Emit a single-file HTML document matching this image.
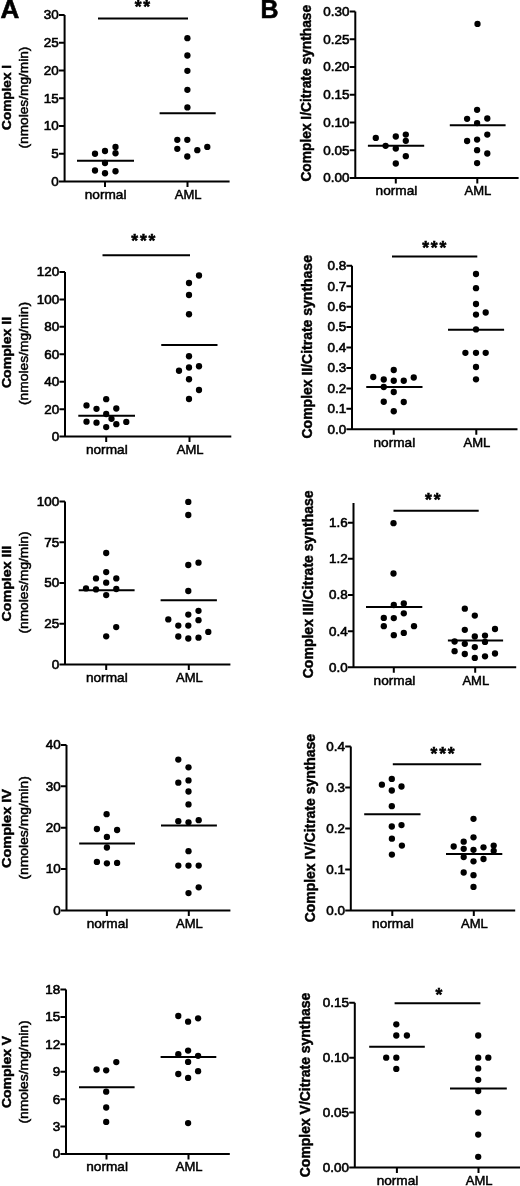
<!DOCTYPE html>
<html><head><meta charset="utf-8"><title>Figure</title>
<style>
html,body{margin:0;padding:0;background:#fff;}
body{width:520px;height:1186px;overflow:hidden;}
svg{display:block;filter:blur(0.3px);}
text{font-family:"Liberation Sans",sans-serif;fill:#000;stroke:#000;stroke-width:0.35px;}
.tk{font-size:13.2px;stroke-width:0.6px;}
.ct{font-size:13.4px;stroke-width:0.5px;}
.y1{font-size:13.6px;font-weight:bold;stroke-width:0.45px;}
.y2{font-size:13.3px;stroke-width:0.5px;}
.yb{font-size:14.1px;font-weight:bold;stroke-width:0.45px;}
.st{font-size:17.5px;font-weight:bold;stroke-width:0.55px;}
.pl{font-size:26px;font-weight:bold;stroke-width:0.6px;}
</style></head><body>
<svg width="520" height="1186" viewBox="0 0 520 1186">
<rect width="520" height="1186" fill="#fff"/>
<text class="pl" x="0.6" y="18.4">A</text>
<text class="pl" transform="translate(260.4 18.4) scale(0.96 1)">B</text>
<g fill="#000">
<path d="M64.6 15V181.5H229.6M59 15H64.6M59 42.75H64.6M59 70.5H64.6M59 98.25H64.6M59 126H64.6M59 153.75H64.6M59 181.5H64.6M105 181.5V187M187.5 181.5V187" fill="none" stroke="#000" stroke-width="2.0"/>
<text class="tk" text-anchor="end" transform="translate(58.8 19.4) scale(1.02 1)">30</text>
<text class="tk" text-anchor="end" transform="translate(58.8 47.15) scale(1.02 1)">25</text>
<text class="tk" text-anchor="end" transform="translate(58.8 74.9) scale(1.02 1)">20</text>
<text class="tk" text-anchor="end" transform="translate(58.8 102.65) scale(1.02 1)">15</text>
<text class="tk" text-anchor="end" transform="translate(58.8 130.4) scale(1.02 1)">10</text>
<text class="tk" text-anchor="end" transform="translate(58.8 158.15) scale(1.02 1)">5</text>
<text class="tk" text-anchor="end" transform="translate(58.8 185.9) scale(1.02 1)">0</text>
<text class="ct" text-anchor="middle" transform="translate(105.6 198.9) scale(1.02 1)">normal</text>
<text class="ct" text-anchor="middle" transform="translate(188.1 198.9) scale(0.975 1)">AML</text>
<path d="M77 160.8H134M159.6 113.3H215.7" stroke="#000" stroke-width="2.0"/>
<path d="M98 18.4H188" stroke="#000" stroke-width="2.0"/>
<text class="st" text-anchor="middle" x="138.1" y="12.6">*</text>
<text class="st" text-anchor="middle" x="146.7" y="12.6">*</text>
<circle cx="95" cy="153.75" r="3.15"/>
<circle cx="105" cy="151" r="3.15"/>
<circle cx="115.5" cy="147" r="3.15"/>
<circle cx="115.5" cy="153.25" r="3.15"/>
<circle cx="105" cy="163" r="3.15"/>
<circle cx="95" cy="170.5" r="3.15"/>
<circle cx="105" cy="173.25" r="3.15"/>
<circle cx="115.5" cy="171.25" r="3.15"/>
<circle cx="187.4" cy="38.2" r="3.15"/>
<circle cx="187.4" cy="55.5" r="3.15"/>
<circle cx="187.4" cy="70.8" r="3.15"/>
<circle cx="187.4" cy="89.8" r="3.15"/>
<circle cx="187.4" cy="107.4" r="3.15"/>
<circle cx="177.3" cy="139.8" r="3.15"/>
<circle cx="187.3" cy="139.8" r="3.15"/>
<circle cx="177.3" cy="148.8" r="3.15"/>
<circle cx="187.3" cy="156.5" r="3.15"/>
<circle cx="197.3" cy="150.2" r="3.15"/>
<circle cx="207.3" cy="146.9" r="3.15"/>
<text class="y1" text-anchor="middle" textLength="64.9" lengthAdjust="spacingAndGlyphs" transform="translate(11.3 97.45) rotate(-90)">Complex I</text>
<text class="y2" text-anchor="middle" textLength="101.9" lengthAdjust="spacingAndGlyphs" transform="translate(27.7 97.55) rotate(-90)">(nmoles/mg/min)</text>
</g>
<g fill="#000">
<path d="M355.3 11.4V178H518.6M349.7 11.4H355.3M349.7 39.17H355.3M349.7 66.93H355.3M349.7 94.7H355.3M349.7 122.47H355.3M349.7 150.23H355.3M349.7 178H355.3M395.8 178V183.5M477.3 178V183.5" fill="none" stroke="#000" stroke-width="2.0"/>
<text class="tk" text-anchor="end" transform="translate(349.5 15.8) scale(1.02 1)">0.30</text>
<text class="tk" text-anchor="end" transform="translate(349.5 43.57) scale(1.02 1)">0.25</text>
<text class="tk" text-anchor="end" transform="translate(349.5 71.33) scale(1.02 1)">0.20</text>
<text class="tk" text-anchor="end" transform="translate(349.5 99.1) scale(1.02 1)">0.15</text>
<text class="tk" text-anchor="end" transform="translate(349.5 126.87) scale(1.02 1)">0.10</text>
<text class="tk" text-anchor="end" transform="translate(349.5 154.63) scale(1.02 1)">0.05</text>
<text class="tk" text-anchor="end" transform="translate(349.5 182.4) scale(1.02 1)">0.00</text>
<text class="ct" text-anchor="middle" transform="translate(396.4 195.4) scale(1.02 1)">normal</text>
<text class="ct" text-anchor="middle" transform="translate(477.9 195.4) scale(0.975 1)">AML</text>
<path d="M367.9 145.8H424.2M449.8 125.2H505.6" stroke="#000" stroke-width="2.0"/>
<circle cx="375.8" cy="137.9" r="3.15"/>
<circle cx="395.8" cy="136.5" r="3.15"/>
<circle cx="405.8" cy="134.6" r="3.15"/>
<circle cx="405.8" cy="140.8" r="3.15"/>
<circle cx="385.6" cy="145.8" r="3.15"/>
<circle cx="395.8" cy="148.5" r="3.15"/>
<circle cx="405.8" cy="156.2" r="3.15"/>
<circle cx="395.8" cy="163.5" r="3.15"/>
<circle cx="477.5" cy="23.9" r="3.15"/>
<circle cx="477.1" cy="109.8" r="3.15"/>
<circle cx="467.1" cy="118.8" r="3.15"/>
<circle cx="487.3" cy="118.5" r="3.15"/>
<circle cx="477.1" cy="123.1" r="3.15"/>
<circle cx="487.3" cy="134.6" r="3.15"/>
<circle cx="467.1" cy="141" r="3.15"/>
<circle cx="477.1" cy="139.6" r="3.15"/>
<circle cx="477.1" cy="150.2" r="3.15"/>
<circle cx="487.3" cy="153.5" r="3.15"/>
<circle cx="477.1" cy="163.1" r="3.15"/>
<text class="yb" text-anchor="middle" textLength="176.7" lengthAdjust="spacingAndGlyphs" transform="translate(311 93.25) rotate(-90)">Complex I/Citrate synthase</text>
</g>
<g fill="#000">
<path d="M65 272V436.6H231.3M59.4 272H65M59.4 299.43H65M59.4 326.87H65M59.4 354.3H65M59.4 381.73H65M59.4 409.17H65M59.4 436.6H65M106.2 436.6V442.1M189.5 436.6V442.1" fill="none" stroke="#000" stroke-width="2.0"/>
<text class="tk" text-anchor="end" transform="translate(59.2 276.4) scale(1.02 1)">120</text>
<text class="tk" text-anchor="end" transform="translate(59.2 303.83) scale(1.02 1)">100</text>
<text class="tk" text-anchor="end" transform="translate(59.2 331.27) scale(1.02 1)">80</text>
<text class="tk" text-anchor="end" transform="translate(59.2 358.7) scale(1.02 1)">60</text>
<text class="tk" text-anchor="end" transform="translate(59.2 386.13) scale(1.02 1)">40</text>
<text class="tk" text-anchor="end" transform="translate(59.2 413.57) scale(1.02 1)">20</text>
<text class="tk" text-anchor="end" transform="translate(59.2 441) scale(1.02 1)">0</text>
<text class="ct" text-anchor="middle" transform="translate(106.8 454) scale(1.02 1)">normal</text>
<text class="ct" text-anchor="middle" transform="translate(190.1 454) scale(0.975 1)">AML</text>
<path d="M78.3 415.7H135M161.25 345H217.5" stroke="#000" stroke-width="2.0"/>
<path d="M102.5 255.3H190" stroke="#000" stroke-width="2.0"/>
<text class="st" text-anchor="middle" x="134.7" y="247.1">*</text>
<text class="st" text-anchor="middle" x="143.3" y="247.1">*</text>
<text class="st" text-anchor="middle" x="151.9" y="247.1">*</text>
<circle cx="86.5" cy="405.4" r="3.15"/>
<circle cx="106.2" cy="399.2" r="3.15"/>
<circle cx="96.5" cy="408.8" r="3.15"/>
<circle cx="116.3" cy="408.5" r="3.15"/>
<circle cx="106.2" cy="414" r="3.15"/>
<circle cx="111.5" cy="418.8" r="3.15"/>
<circle cx="86.5" cy="421.7" r="3.15"/>
<circle cx="96.5" cy="422.7" r="3.15"/>
<circle cx="116.3" cy="424.2" r="3.15"/>
<circle cx="126.3" cy="421.9" r="3.15"/>
<circle cx="106.2" cy="427.1" r="3.15"/>
<circle cx="199" cy="275.5" r="3.15"/>
<circle cx="189" cy="283" r="3.15"/>
<circle cx="189" cy="295" r="3.15"/>
<circle cx="189" cy="314.25" r="3.15"/>
<circle cx="189" cy="356.25" r="3.15"/>
<circle cx="179" cy="370.75" r="3.15"/>
<circle cx="189" cy="367.5" r="3.15"/>
<circle cx="199" cy="366.25" r="3.15"/>
<circle cx="189" cy="379.25" r="3.15"/>
<circle cx="199" cy="390" r="3.15"/>
<circle cx="189" cy="399" r="3.15"/>
<text class="y1" text-anchor="middle" textLength="71.2" lengthAdjust="spacingAndGlyphs" transform="translate(11.3 352.5) rotate(-90)">Complex II</text>
<text class="y2" text-anchor="middle" textLength="103" lengthAdjust="spacingAndGlyphs" transform="translate(27.7 353.5) rotate(-90)">(nmoles/mg/min)</text>
</g>
<g fill="#000">
<path d="M352 265.75V429.25H517.5M346.4 265.75H352M346.4 286.19H352M346.4 306.63H352M346.4 327.06H352M346.4 347.5H352M346.4 367.94H352M346.4 388.38H352M346.4 408.81H352M346.4 429.25H352M393.75 429.25V434.75M476.3 429.25V434.75" fill="none" stroke="#000" stroke-width="2.0"/>
<text class="tk" text-anchor="end" transform="translate(346.2 270.15) scale(1.02 1)">0.8</text>
<text class="tk" text-anchor="end" transform="translate(346.2 290.59) scale(1.02 1)">0.7</text>
<text class="tk" text-anchor="end" transform="translate(346.2 311.03) scale(1.02 1)">0.6</text>
<text class="tk" text-anchor="end" transform="translate(346.2 331.46) scale(1.02 1)">0.5</text>
<text class="tk" text-anchor="end" transform="translate(346.2 351.9) scale(1.02 1)">0.4</text>
<text class="tk" text-anchor="end" transform="translate(346.2 372.34) scale(1.02 1)">0.3</text>
<text class="tk" text-anchor="end" transform="translate(346.2 392.78) scale(1.02 1)">0.2</text>
<text class="tk" text-anchor="end" transform="translate(346.2 413.21) scale(1.02 1)">0.1</text>
<text class="tk" text-anchor="end" transform="translate(346.2 433.65) scale(1.02 1)">0.0</text>
<text class="ct" text-anchor="middle" transform="translate(394.35 446.65) scale(1.02 1)">normal</text>
<text class="ct" text-anchor="middle" transform="translate(476.9 446.65) scale(0.975 1)">AML</text>
<path d="M366.25 387H422.5M448 329.8H504.1" stroke="#000" stroke-width="2.0"/>
<path d="M392 256.5H477.3" stroke="#000" stroke-width="2.0"/>
<text class="st" text-anchor="middle" x="425.6" y="254.3">*</text>
<text class="st" text-anchor="middle" x="434.2" y="254.3">*</text>
<text class="st" text-anchor="middle" x="442.8" y="254.3">*</text>
<circle cx="373.25" cy="377" r="3.15"/>
<circle cx="393.75" cy="370" r="3.15"/>
<circle cx="383.75" cy="379.5" r="3.15"/>
<circle cx="393.75" cy="380.75" r="3.15"/>
<circle cx="403.75" cy="380.75" r="3.15"/>
<circle cx="413.75" cy="377.5" r="3.15"/>
<circle cx="383.75" cy="387" r="3.15"/>
<circle cx="393.75" cy="392" r="3.15"/>
<circle cx="383.75" cy="401.75" r="3.15"/>
<circle cx="403.75" cy="402" r="3.15"/>
<circle cx="393.75" cy="411.25" r="3.15"/>
<circle cx="476" cy="274" r="3.15"/>
<circle cx="476" cy="288.2" r="3.15"/>
<circle cx="476" cy="304" r="3.15"/>
<circle cx="485.7" cy="312.5" r="3.15"/>
<circle cx="476" cy="314.6" r="3.15"/>
<circle cx="476" cy="329.4" r="3.15"/>
<circle cx="465.4" cy="352.8" r="3.15"/>
<circle cx="476" cy="352.8" r="3.15"/>
<circle cx="485.7" cy="352.8" r="3.15"/>
<circle cx="476" cy="367" r="3.15"/>
<circle cx="476" cy="379.3" r="3.15"/>
<text class="yb" text-anchor="middle" textLength="183.4" lengthAdjust="spacingAndGlyphs" transform="translate(312.3 346.8) rotate(-90)">Complex II/Citrate synthase</text>
</g>
<g fill="#000">
<path d="M65 501.6V664.4H230.4M59.4 501.6H65M59.4 542.3H65M59.4 583H65M59.4 623.7H65M59.4 664.4H65M106.2 664.4V669.9M188.8 664.4V669.9" fill="none" stroke="#000" stroke-width="2.0"/>
<text class="tk" text-anchor="end" transform="translate(59.2 506) scale(1.02 1)">100</text>
<text class="tk" text-anchor="end" transform="translate(59.2 546.7) scale(1.02 1)">75</text>
<text class="tk" text-anchor="end" transform="translate(59.2 587.4) scale(1.02 1)">50</text>
<text class="tk" text-anchor="end" transform="translate(59.2 628.1) scale(1.02 1)">25</text>
<text class="tk" text-anchor="end" transform="translate(59.2 668.8) scale(1.02 1)">0</text>
<text class="ct" text-anchor="middle" transform="translate(106.8 681.8) scale(1.02 1)">normal</text>
<text class="ct" text-anchor="middle" transform="translate(189.4 681.8) scale(0.975 1)">AML</text>
<path d="M78.7 590.3H134.6M160.6 600.2H216.9" stroke="#000" stroke-width="2.0"/>
<circle cx="106.2" cy="553" r="3.15"/>
<circle cx="106.2" cy="572.1" r="3.15"/>
<circle cx="96" cy="578.4" r="3.15"/>
<circle cx="116.3" cy="578.4" r="3.15"/>
<circle cx="106.2" cy="582.7" r="3.15"/>
<circle cx="86" cy="588.4" r="3.15"/>
<circle cx="96" cy="589.4" r="3.15"/>
<circle cx="116.3" cy="589" r="3.15"/>
<circle cx="106.2" cy="595.1" r="3.15"/>
<circle cx="116.2" cy="627.1" r="3.15"/>
<circle cx="106.2" cy="636.3" r="3.15"/>
<circle cx="188.3" cy="501.9" r="3.15"/>
<circle cx="188.3" cy="515" r="3.15"/>
<circle cx="188.3" cy="565" r="3.15"/>
<circle cx="198.5" cy="562.7" r="3.15"/>
<circle cx="188.3" cy="591" r="3.15"/>
<circle cx="198.5" cy="610.8" r="3.15"/>
<circle cx="188.3" cy="614.6" r="3.15"/>
<circle cx="168.3" cy="619.4" r="3.15"/>
<circle cx="198.5" cy="620.2" r="3.15"/>
<circle cx="178.3" cy="625.6" r="3.15"/>
<circle cx="188.3" cy="625.6" r="3.15"/>
<circle cx="208.3" cy="631.9" r="3.15"/>
<circle cx="178.3" cy="636.5" r="3.15"/>
<circle cx="188.3" cy="638.5" r="3.15"/>
<circle cx="198.5" cy="637.7" r="3.15"/>
<text class="y1" text-anchor="middle" textLength="75.7" lengthAdjust="spacingAndGlyphs" transform="translate(11.3 583.55) rotate(-90)">Complex III</text>
<text class="y2" text-anchor="middle" textLength="102" lengthAdjust="spacingAndGlyphs" transform="translate(27.7 582.5) rotate(-90)">(nmoles/mg/min)</text>
</g>
<g fill="#000">
<path d="M353.5 503V667.3H516.2M347.9 522.7H353.5M347.9 558.85H353.5M347.9 595H353.5M347.9 631.15H353.5M347.9 667.3H353.5M393.8 667.3V672.8M475.2 667.3V672.8" fill="none" stroke="#000" stroke-width="2.0"/>
<text class="tk" text-anchor="end" transform="translate(347.7 527.1) scale(1.02 1)">1.6</text>
<text class="tk" text-anchor="end" transform="translate(347.7 563.25) scale(1.02 1)">1.2</text>
<text class="tk" text-anchor="end" transform="translate(347.7 599.4) scale(1.02 1)">0.8</text>
<text class="tk" text-anchor="end" transform="translate(347.7 635.55) scale(1.02 1)">0.4</text>
<text class="tk" text-anchor="end" transform="translate(347.7 671.7) scale(1.02 1)">0.0</text>
<text class="ct" text-anchor="middle" transform="translate(394.4 684.7) scale(1.02 1)">normal</text>
<text class="ct" text-anchor="middle" transform="translate(475.8 684.7) scale(0.975 1)">AML</text>
<path d="M366 606.9H422.3M447.9 640.4H503.1" stroke="#000" stroke-width="2.0"/>
<path d="M393.5 510.8H478.7" stroke="#000" stroke-width="2.0"/>
<text class="st" text-anchor="middle" x="428.5" y="506.3">*</text>
<text class="st" text-anchor="middle" x="437.1" y="506.3">*</text>
<circle cx="393.5" cy="523.2" r="3.15"/>
<circle cx="393.5" cy="573.5" r="3.15"/>
<circle cx="393.8" cy="605" r="3.15"/>
<circle cx="403.8" cy="603.5" r="3.15"/>
<circle cx="403.8" cy="613.3" r="3.15"/>
<circle cx="383.8" cy="617.9" r="3.15"/>
<circle cx="393.8" cy="618.1" r="3.15"/>
<circle cx="383.8" cy="626.2" r="3.15"/>
<circle cx="414" cy="626.2" r="3.15"/>
<circle cx="393.8" cy="635.2" r="3.15"/>
<circle cx="403.8" cy="632.9" r="3.15"/>
<circle cx="464.8" cy="608.7" r="3.15"/>
<circle cx="474.8" cy="615.6" r="3.15"/>
<circle cx="464.8" cy="629.8" r="3.15"/>
<circle cx="495" cy="629" r="3.15"/>
<circle cx="474.8" cy="636.5" r="3.15"/>
<circle cx="485" cy="635.6" r="3.15"/>
<circle cx="454.6" cy="641.5" r="3.15"/>
<circle cx="464.8" cy="643.8" r="3.15"/>
<circle cx="485" cy="641.9" r="3.15"/>
<circle cx="474.8" cy="647.1" r="3.15"/>
<circle cx="454.6" cy="651.2" r="3.15"/>
<circle cx="464.8" cy="654" r="3.15"/>
<circle cx="495" cy="653.5" r="3.15"/>
<circle cx="474.8" cy="657.9" r="3.15"/>
<circle cx="485" cy="656.3" r="3.15"/>
<text class="yb" text-anchor="middle" textLength="187.9" lengthAdjust="spacingAndGlyphs" transform="translate(313.4 584.35) rotate(-90)">Complex III/Citrate synthase</text>
</g>
<g fill="#000">
<path d="M66.5 745V910.4H230.4M60.9 745H66.5M60.9 786.35H66.5M60.9 827.7H66.5M60.9 869.05H66.5M60.9 910.4H66.5M106.9 910.4V915.9M188.8 910.4V915.9" fill="none" stroke="#000" stroke-width="2.0"/>
<text class="tk" text-anchor="end" transform="translate(60.7 749.4) scale(1.02 1)">40</text>
<text class="tk" text-anchor="end" transform="translate(60.7 790.75) scale(1.02 1)">30</text>
<text class="tk" text-anchor="end" transform="translate(60.7 832.1) scale(1.02 1)">20</text>
<text class="tk" text-anchor="end" transform="translate(60.7 873.45) scale(1.02 1)">10</text>
<text class="tk" text-anchor="end" transform="translate(60.7 914.8) scale(1.02 1)">0</text>
<text class="ct" text-anchor="middle" transform="translate(107.5 927.8) scale(1.02 1)">normal</text>
<text class="ct" text-anchor="middle" transform="translate(189.4 927.8) scale(0.975 1)">AML</text>
<path d="M79.2 843.5H135M161 825.6H216.9" stroke="#000" stroke-width="2.0"/>
<circle cx="106.6" cy="814.2" r="3.15"/>
<circle cx="96.9" cy="829" r="3.15"/>
<circle cx="117.1" cy="830" r="3.15"/>
<circle cx="106.9" cy="836.9" r="3.15"/>
<circle cx="106.9" cy="847.5" r="3.15"/>
<circle cx="96.9" cy="861.9" r="3.15"/>
<circle cx="106.9" cy="863.3" r="3.15"/>
<circle cx="117.1" cy="862.9" r="3.15"/>
<circle cx="178.3" cy="759.6" r="3.15"/>
<circle cx="188.5" cy="767.3" r="3.15"/>
<circle cx="178.3" cy="782.7" r="3.15"/>
<circle cx="188.5" cy="780.4" r="3.15"/>
<circle cx="188.5" cy="791.5" r="3.15"/>
<circle cx="188.5" cy="804.4" r="3.15"/>
<circle cx="178.3" cy="821.2" r="3.15"/>
<circle cx="188.5" cy="822.3" r="3.15"/>
<circle cx="198.7" cy="820.2" r="3.15"/>
<circle cx="188.5" cy="851.2" r="3.15"/>
<circle cx="178.3" cy="865.6" r="3.15"/>
<circle cx="188.5" cy="865.6" r="3.15"/>
<circle cx="198.7" cy="865.6" r="3.15"/>
<circle cx="198.7" cy="887.3" r="3.15"/>
<circle cx="188.5" cy="893.1" r="3.15"/>
<text class="y1" text-anchor="middle" textLength="79.1" lengthAdjust="spacingAndGlyphs" transform="translate(11.3 828.55) rotate(-90)">Complex IV</text>
<text class="y2" text-anchor="middle" textLength="103.4" lengthAdjust="spacingAndGlyphs" transform="translate(27.7 827.9) rotate(-90)">(nmoles/mg/min)</text>
</g>
<g fill="#000">
<path d="M350.8 746.6V910.6H515.2M345.2 746.6H350.8M345.2 787.6H350.8M345.2 828.6H350.8M345.2 869.6H350.8M345.2 910.6H350.8M392.3 910.6V916.1M473.8 910.6V916.1" fill="none" stroke="#000" stroke-width="2.0"/>
<text class="tk" text-anchor="end" transform="translate(345 751) scale(1.02 1)">0.4</text>
<text class="tk" text-anchor="end" transform="translate(345 792) scale(1.02 1)">0.3</text>
<text class="tk" text-anchor="end" transform="translate(345 833) scale(1.02 1)">0.2</text>
<text class="tk" text-anchor="end" transform="translate(345 874) scale(1.02 1)">0.1</text>
<text class="tk" text-anchor="end" transform="translate(345 915) scale(1.02 1)">0.0</text>
<text class="ct" text-anchor="middle" transform="translate(392.9 928) scale(1.02 1)">normal</text>
<text class="ct" text-anchor="middle" transform="translate(474.4 928) scale(0.975 1)">AML</text>
<path d="M364.2 814.2H420.5M446 854H502.3" stroke="#000" stroke-width="2.0"/>
<path d="M392.8 764.2H481.2" stroke="#000" stroke-width="2.0"/>
<text class="st" text-anchor="middle" x="434" y="759.6">*</text>
<text class="st" text-anchor="middle" x="442.6" y="759.6">*</text>
<text class="st" text-anchor="middle" x="451.2" y="759.6">*</text>
<circle cx="391.8" cy="778.9" r="3.15"/>
<circle cx="381.9" cy="784.7" r="3.15"/>
<circle cx="401.5" cy="786.5" r="3.15"/>
<circle cx="391.8" cy="790.5" r="3.15"/>
<circle cx="391.8" cy="806.2" r="3.15"/>
<circle cx="391.8" cy="826.5" r="3.15"/>
<circle cx="401.5" cy="825.1" r="3.15"/>
<circle cx="391.9" cy="838.7" r="3.15"/>
<circle cx="401.9" cy="845.6" r="3.15"/>
<circle cx="391.9" cy="854.6" r="3.15"/>
<circle cx="473.5" cy="818.8" r="3.15"/>
<circle cx="473.5" cy="837.3" r="3.15"/>
<circle cx="463.7" cy="841.7" r="3.15"/>
<circle cx="453.7" cy="846.5" r="3.15"/>
<circle cx="463.7" cy="848.8" r="3.15"/>
<circle cx="473.5" cy="849.8" r="3.15"/>
<circle cx="483.5" cy="847.3" r="3.15"/>
<circle cx="493.7" cy="845.6" r="3.15"/>
<circle cx="493.7" cy="850.8" r="3.15"/>
<circle cx="463.7" cy="857.1" r="3.15"/>
<circle cx="483.5" cy="859" r="3.15"/>
<circle cx="473.5" cy="861.3" r="3.15"/>
<circle cx="463.7" cy="872.5" r="3.15"/>
<circle cx="473.5" cy="875.2" r="3.15"/>
<circle cx="473.5" cy="886.9" r="3.15"/>
<text class="yb" text-anchor="middle" textLength="188.4" lengthAdjust="spacingAndGlyphs" transform="translate(314.7 828.1) rotate(-90)">Complex IV/Citrate synthase</text>
</g>
<g fill="#000">
<path d="M66 989.5V1154H229.8M60.4 989.5H66M60.4 1016.92H66M60.4 1044.33H66M60.4 1071.75H66M60.4 1099.17H66M60.4 1126.58H66M60.4 1154H66M106.5 1154V1159.5M188.5 1154V1159.5" fill="none" stroke="#000" stroke-width="2.0"/>
<text class="tk" text-anchor="end" transform="translate(60.2 993.9) scale(1.02 1)">18</text>
<text class="tk" text-anchor="end" transform="translate(60.2 1021.32) scale(1.02 1)">15</text>
<text class="tk" text-anchor="end" transform="translate(60.2 1048.73) scale(1.02 1)">12</text>
<text class="tk" text-anchor="end" transform="translate(60.2 1076.15) scale(1.02 1)">9</text>
<text class="tk" text-anchor="end" transform="translate(60.2 1103.57) scale(1.02 1)">6</text>
<text class="tk" text-anchor="end" transform="translate(60.2 1130.98) scale(1.02 1)">3</text>
<text class="tk" text-anchor="end" transform="translate(60.2 1158.4) scale(1.02 1)">0</text>
<text class="ct" text-anchor="middle" transform="translate(107.1 1171.4) scale(1.02 1)">normal</text>
<text class="ct" text-anchor="middle" transform="translate(189.1 1171.4) scale(0.975 1)">AML</text>
<path d="M79 1087.3H134.6M160.6 1057.1H216.3" stroke="#000" stroke-width="2.0"/>
<circle cx="96.6" cy="1069.5" r="3.15"/>
<circle cx="106.2" cy="1070.3" r="3.15"/>
<circle cx="116.3" cy="1062.1" r="3.15"/>
<circle cx="106.2" cy="1091.7" r="3.15"/>
<circle cx="106.2" cy="1107.5" r="3.15"/>
<circle cx="106.2" cy="1121.9" r="3.15"/>
<circle cx="178.3" cy="1016" r="3.15"/>
<circle cx="188.1" cy="1021.7" r="3.15"/>
<circle cx="198.1" cy="1018.3" r="3.15"/>
<circle cx="188.1" cy="1050.6" r="3.15"/>
<circle cx="178.3" cy="1054.2" r="3.15"/>
<circle cx="198.1" cy="1055.8" r="3.15"/>
<circle cx="188.1" cy="1061.9" r="3.15"/>
<circle cx="198.1" cy="1071.2" r="3.15"/>
<circle cx="178.3" cy="1074" r="3.15"/>
<circle cx="188.1" cy="1077.9" r="3.15"/>
<circle cx="188.1" cy="1123.1" r="3.15"/>
<text class="y1" text-anchor="middle" textLength="72.3" lengthAdjust="spacingAndGlyphs" transform="translate(11.3 1071.95) rotate(-90)">Complex V</text>
<text class="y2" text-anchor="middle" textLength="103.3" lengthAdjust="spacingAndGlyphs" transform="translate(27.7 1071.95) rotate(-90)">(nmoles/mg/min)</text>
</g>
<g fill="#000">
<path d="M354.8 1002.7V1167.5H521M349.2 1002.7H354.8M349.2 1057.63H354.8M349.2 1112.57H354.8M349.2 1167.5H354.8M396.9 1167.5V1173M478.5 1167.5V1173" fill="none" stroke="#000" stroke-width="2.0"/>
<text class="tk" text-anchor="end" transform="translate(349 1007.1) scale(1.02 1)">0.15</text>
<text class="tk" text-anchor="end" transform="translate(349 1062.03) scale(1.02 1)">0.10</text>
<text class="tk" text-anchor="end" transform="translate(349 1116.97) scale(1.02 1)">0.05</text>
<text class="tk" text-anchor="end" transform="translate(349 1171.9) scale(1.02 1)">0.00</text>
<text class="ct" text-anchor="middle" transform="translate(397.5 1184.9) scale(1.02 1)">normal</text>
<text class="ct" text-anchor="middle" transform="translate(479.1 1184.9) scale(0.975 1)">AML</text>
<path d="M369.2 1046.7H424.8M450 1088.4H506.8" stroke="#000" stroke-width="2.0"/>
<path d="M394.6 1003.3H480.4" stroke="#000" stroke-width="2.0"/>
<text class="st" text-anchor="middle" x="438.9" y="1001">*</text>
<circle cx="396.3" cy="1024.3" r="3.15"/>
<circle cx="396.3" cy="1035.5" r="3.15"/>
<circle cx="406.9" cy="1035.5" r="3.15"/>
<circle cx="386.2" cy="1057.7" r="3.15"/>
<circle cx="396.3" cy="1057.7" r="3.15"/>
<circle cx="396.3" cy="1068.9" r="3.15"/>
<circle cx="478.2" cy="1035.5" r="3.15"/>
<circle cx="478.2" cy="1057.7" r="3.15"/>
<circle cx="488.3" cy="1057.7" r="3.15"/>
<circle cx="478.2" cy="1068.4" r="3.15"/>
<circle cx="478.2" cy="1079.8" r="3.15"/>
<circle cx="478.2" cy="1091" r="3.15"/>
<circle cx="478.2" cy="1112.6" r="3.15"/>
<circle cx="478.2" cy="1134.6" r="3.15"/>
<circle cx="478.2" cy="1156.8" r="3.15"/>
<text class="yb" text-anchor="middle" textLength="184.5" lengthAdjust="spacingAndGlyphs" transform="translate(310.3 1084.95) rotate(-90)">Complex V/Citrate synthase</text>
</g>
</svg>
</body></html>
